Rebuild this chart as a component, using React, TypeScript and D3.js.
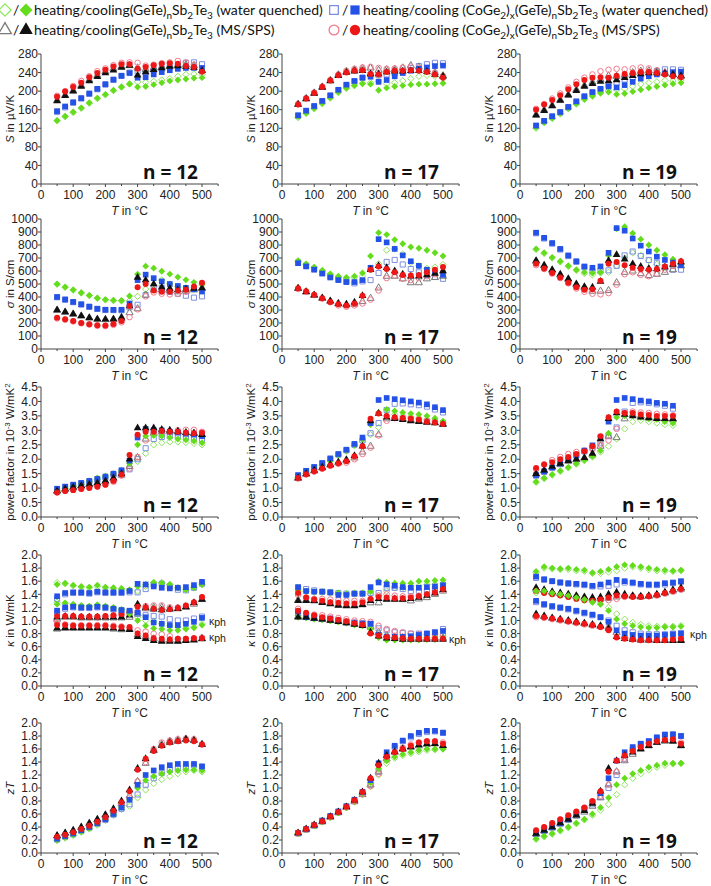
import React from 'react';
import * as d3 from 'd3';

// ---------- data ----------
const T_C = [50, 75, 100, 125, 150, 175, 200, 225, 250, 275, 300, 325, 350, 375, 400, 425, 450, 475, 500];
const X_TICKS = [0, 100, 200, 300, 400, 500];
const N_LABELS = ['12', '17', '19'];
// series order in every block: (GeTe)nSb2Te3 WQ, (CoGe2)x(GeTe)nSb2Te3 WQ, (GeTe)nSb2Te3 MS/SPS, (CoGe2)x(GeTe)nSb2Te3 MS/SPS

// Seebeck coefficient, µV/K
const S12_heat = [
  [136,145,154,163,174,184,192,201,209,216,220,219,221,224,227,232,236,237,236],
  [155,165,175,184,194,204,214,224,233,240,243,240,245,248,251,255,261,262,258],
  [180,191,201,212,224,234,242,248,253,255,250,247,250,252,255,256,257,255,245],
  [190,200,211,222,232,243,249,256,261,262,261,255,257,260,262,265,262,257,243],
];
const S12_cool = [
  [137,146,155,164,175,185,193,202,209,215,209,210,214,218,222,224,226,228,229],
  [157,167,176,185,195,205,215,225,233,239,229,230,236,241,245,248,250,250,250],
  [179,190,200,210,222,231,239,245,251,255,234,241,246,250,253,254,253,251,244],
  [188,199,209,218,230,239,246,253,258,258,248,252,256,259,260,259,254,252,242],
];
const S17_heat = [
  [143,152,162,173,185,197,206,212,217,218,221,216,218,222,227,232,234,232,229],
  [147,157,167,178,190,202,213,221,229,236,234,236,238,244,250,254,258,261,260],
  [172,184,196,209,223,235,242,246,249,250,245,246,247,250,255,252,246,240,233],
  [172,185,197,210,224,236,244,248,251,252,250,248,249,251,253,250,245,240,233],
];
const S17_cool = [
  [145,153,163,174,186,198,207,212,216,215,202,207,210,212,214,215,215,216,217],
  [148,158,168,179,191,203,214,222,229,231,220,224,232,239,244,248,251,254,255],
  [171,183,195,208,222,233,240,243,244,237,237,241,243,243,244,244,242,236,232],
  [171,184,196,209,223,234,240,244,245,237,236,241,244,244,245,244,241,236,229],
];
const S19_heat = [
  [120,132,141,151,162,172,182,189,196,201,203,205,210,215,218,220,223,222,224],
  [125,135,145,154,165,177,188,197,204,212,218,225,230,235,240,243,247,247,246],
  [149,159,169,181,192,203,212,219,225,233,232,235,240,243,244,243,240,236,232],
  [162,172,184,195,208,220,229,236,243,246,248,247,249,251,249,245,240,235,232],
];
const S19_cool = [
  [122,133,142,152,163,173,183,190,196,198,193,195,199,203,207,210,213,216,218],
  [126,136,146,155,166,178,189,198,205,210,208,213,220,227,232,236,238,241,242],
  [148,158,168,180,191,201,210,216,221,222,224,229,233,237,239,239,238,236,233],
  [160,171,181,191,204,215,224,229,230,229,233,237,239,241,241,239,236,232,230],
];

// electrical conductivity, S/cm
const C12_heat = [
  [498,475,453,431,411,390,378,372,370,372,405,460,490,530,500,480,470,460,460],
  [398,379,360,342,324,308,300,299,298,320,340,415,470,470,440,425,410,395,405],
  [298,283,268,253,238,228,226,228,235,280,310,415,455,455,450,440,445,455,465],
  [235,225,212,198,188,178,176,185,205,245,305,405,435,425,420,425,440,470,505],
];
const C12_cool = [
  [500,477,455,433,413,392,380,375,373,408,575,637,622,598,576,553,532,513,495],
  [400,381,362,344,326,310,302,301,302,350,530,572,545,520,500,485,470,460,443],
  [300,285,270,255,240,230,228,230,245,330,550,530,500,475,465,455,460,465,470],
  [240,228,215,200,190,182,180,192,215,330,475,500,450,440,440,450,455,480,510],
];
const C17_heat = [
  [675,650,625,600,572,555,545,548,560,610,655,760,770,730,665,640,620,630,650],
  [665,640,615,585,555,535,518,505,520,530,585,670,685,650,615,590,570,555,540],
  [465,438,412,390,368,348,340,345,365,390,470,560,560,540,510,510,540,550,560],
  [462,440,415,388,360,335,325,335,350,380,450,545,565,540,530,545,560,575,590],
];
const C17_cool = [
  [680,655,630,605,578,560,550,560,585,715,895,880,840,810,785,775,760,740,715],
  [660,635,610,580,550,530,515,515,530,625,845,820,770,720,675,640,610,590,570],
  [468,440,415,392,370,350,345,360,410,610,640,625,600,575,560,560,570,580,600],
  [468,445,418,390,362,345,335,350,410,610,635,615,590,570,565,570,590,610,630],
];
const C19_heat = [
  [765,735,700,670,635,605,580,570,585,590,640,700,740,720,680,650,630,640,650],
  [890,850,810,765,715,670,630,600,605,605,640,720,750,715,685,660,630,610,610],
  [675,640,605,570,535,495,470,445,445,450,510,590,600,580,565,575,590,610,640],
  [645,615,580,545,505,465,440,425,420,430,495,575,590,570,560,580,610,640,660],
];
const C19_cool = [
  [770,740,705,675,640,610,590,585,590,720,925,940,890,845,800,760,725,690,660],
  [895,855,815,770,720,675,635,625,635,740,930,910,850,795,750,710,685,665,645],
  [680,645,610,575,540,500,480,475,520,680,725,690,655,635,620,615,630,650,670],
  [655,620,585,550,510,475,455,460,525,655,670,645,625,615,610,615,635,655,675],
];

// power factor, 10^-3 W/mK^2
const P12_heat = [
  [0.9,0.98,1.06,1.13,1.22,1.3,1.38,1.46,1.55,1.75,1.92,2.2,2.5,2.57,2.6,2.6,2.58,2.55,2.5],
  [0.96,1.04,1.1,1.16,1.22,1.28,1.36,1.46,1.58,1.65,2.0,2.38,2.7,2.77,2.8,2.8,2.75,2.72,2.7],
  [0.9,0.96,1.02,1.07,1.12,1.17,1.23,1.32,1.45,1.75,2.05,2.7,2.9,2.95,2.97,2.95,2.92,2.9,2.85],
  [0.85,0.9,0.94,0.98,1.02,1.06,1.12,1.22,1.43,1.68,2.08,2.65,2.9,2.93,2.97,3.0,3.02,3.02,2.95],
];
const P12_cool = [
  [0.92,1.0,1.08,1.15,1.25,1.35,1.42,1.5,1.6,1.85,2.5,2.8,2.82,2.8,2.75,2.7,2.67,2.63,2.57],
  [0.98,1.05,1.12,1.18,1.25,1.32,1.4,1.5,1.62,1.95,2.75,3.05,3.0,3.0,2.95,2.92,2.88,2.85,2.8],
  [0.9,0.97,1.03,1.08,1.13,1.18,1.25,1.35,1.5,2.0,3.08,3.08,3.08,3.03,3.0,2.97,2.92,2.9,2.85],
  [0.85,0.9,0.93,0.97,1.0,1.05,1.12,1.25,1.47,2.15,2.85,2.95,2.95,2.98,2.95,2.95,2.92,2.9,2.92],
];
const P17_heat = [
  [1.37,1.5,1.63,1.78,1.93,2.12,2.28,2.47,2.62,2.85,3.1,3.5,3.55,3.5,3.47,3.42,3.37,3.32,3.28],
  [1.43,1.58,1.72,1.85,2.0,2.16,2.31,2.5,2.65,2.9,3.25,3.7,3.92,3.93,3.9,3.87,3.82,3.72,3.62],
  [1.34,1.48,1.6,1.7,1.8,1.88,1.95,2.05,2.25,2.45,2.85,3.4,3.45,3.4,3.35,3.32,3.3,3.27,3.22],
  [1.33,1.47,1.57,1.67,1.77,1.84,1.88,2.0,2.18,2.4,2.82,3.33,3.42,3.42,3.42,3.4,3.35,3.32,3.25],
];
const P17_cool = [
  [1.38,1.52,1.65,1.8,1.95,2.15,2.3,2.5,2.68,3.2,3.62,3.72,3.67,3.62,3.58,3.55,3.5,3.42,3.32],
  [1.45,1.6,1.73,1.87,2.03,2.18,2.33,2.53,2.75,3.25,4.05,4.12,4.08,4.04,4.0,3.96,3.9,3.8,3.7],
  [1.35,1.5,1.62,1.72,1.82,1.9,1.98,2.12,2.45,3.32,3.58,3.45,3.4,3.37,3.32,3.3,3.27,3.25,3.2],
  [1.35,1.48,1.58,1.68,1.78,1.86,1.93,2.1,2.45,3.4,3.58,3.5,3.45,3.43,3.4,3.37,3.3,3.27,3.22],
];
const P19_heat = [
  [1.2,1.33,1.45,1.58,1.7,1.83,1.95,2.08,2.25,2.45,2.7,3.05,3.3,3.35,3.3,3.25,3.2,3.17,null],
  [1.43,1.56,1.7,1.83,1.97,2.12,2.27,2.4,2.55,2.8,3.1,3.65,3.95,3.97,3.95,3.9,3.85,3.75,null],
  [1.48,1.6,1.72,1.83,1.93,1.98,2.03,2.15,2.45,2.8,2.75,3.4,3.55,3.5,3.45,3.42,3.4,3.38,null],
  [1.65,1.82,1.97,2.08,2.18,2.25,2.3,2.35,2.5,2.65,3.05,3.6,3.65,3.62,3.6,3.57,3.55,3.52,null],
];
const P19_cool = [
  [1.22,1.35,1.47,1.6,1.72,1.85,1.97,2.1,2.3,2.9,3.45,3.5,3.5,3.45,3.4,3.38,3.3,3.25,null],
  [1.45,1.58,1.72,1.85,2.0,2.15,2.3,2.48,2.75,3.3,4.05,4.12,4.08,4.03,4.0,3.95,3.92,3.85,null],
  [1.5,1.62,1.75,1.85,1.95,2.0,2.05,2.2,2.7,3.4,3.6,3.55,3.5,3.45,3.43,3.4,3.4,3.4,null],
  [1.7,1.82,1.9,2.0,2.08,2.18,2.28,2.45,2.8,3.45,3.65,3.6,3.6,3.55,3.53,3.5,3.5,3.5,null],
];

// thermal conductivity (total), W/mK
const K12_heat = [
  [1.58,1.56,1.53,1.51,1.5,1.52,1.5,1.49,1.48,1.46,1.45,1.52,1.58,1.58,1.55,1.5,1.47,1.5,1.55],
  [1.33,1.4,1.42,1.42,1.41,1.43,1.42,1.42,1.42,1.43,1.43,1.48,1.55,1.56,1.52,1.47,1.46,1.5,1.56],
  [1.02,1.05,1.05,1.04,1.04,1.04,1.04,1.04,1.04,1.05,1.1,1.18,1.2,1.2,1.18,1.18,1.2,1.25,1.32],
  [1.0,1.06,1.06,1.05,1.05,1.05,1.06,1.07,1.08,1.1,1.13,1.22,1.23,1.23,1.2,1.2,1.22,1.27,1.35],
];
const K12_cool = [
  [1.55,1.57,1.54,1.52,1.51,1.54,1.51,1.5,1.49,1.47,1.52,1.55,1.58,1.57,1.55,1.5,1.47,1.5,1.55],
  [1.37,1.42,1.43,1.43,1.42,1.44,1.43,1.43,1.43,1.45,1.56,1.55,1.52,1.5,1.49,1.5,1.51,1.54,1.59],
  [1.05,1.06,1.06,1.05,1.05,1.05,1.05,1.05,1.05,1.08,1.25,1.2,1.17,1.16,1.17,1.18,1.21,1.27,1.32],
  [1.07,1.07,1.07,1.06,1.06,1.06,1.07,1.08,1.1,1.13,1.21,1.2,1.18,1.16,1.17,1.19,1.23,1.28,1.36],
];
const K17_heat = [
  [1.45,1.44,1.43,1.43,1.42,1.41,1.4,1.41,1.41,1.4,1.38,1.45,1.5,1.5,1.52,1.53,1.55,1.55,1.57],
  [1.5,1.48,1.46,1.44,1.43,1.42,1.41,1.41,1.41,1.42,1.42,1.5,1.5,1.48,1.45,1.45,1.45,1.48,1.52],
  [1.31,1.31,1.3,1.28,1.26,1.24,1.23,1.23,1.24,1.27,1.27,1.33,1.33,1.32,1.3,1.33,1.35,1.4,1.45],
  [1.39,1.35,1.33,1.33,1.32,1.31,1.3,1.3,1.3,1.32,1.38,1.4,1.38,1.37,1.37,1.38,1.4,1.42,1.47],
];
const K17_cool = [
  [1.47,1.45,1.44,1.44,1.43,1.42,1.41,1.42,1.42,1.44,1.6,1.58,1.57,1.57,1.57,1.6,1.6,1.61,1.62],
  [1.51,1.45,1.44,1.44,1.43,1.39,1.39,1.41,1.41,1.51,1.58,1.55,1.53,1.51,1.5,1.5,1.51,1.52,1.54],
  [1.3,1.3,1.3,1.27,1.25,1.23,1.22,1.22,1.24,1.3,1.33,1.32,1.32,1.32,1.33,1.35,1.38,1.42,1.47],
  [1.42,1.35,1.32,1.3,1.28,1.27,1.26,1.26,1.28,1.33,1.36,1.35,1.34,1.34,1.35,1.37,1.4,1.43,1.48],
];
const K19_heat = [
  [1.73,1.8,1.79,1.78,1.78,1.76,1.75,1.72,1.72,1.74,1.76,1.8,1.82,1.8,1.78,1.76,1.75,1.75,1.76],
  [1.65,1.62,1.6,1.58,1.56,1.55,1.54,1.52,1.52,1.53,1.55,1.58,1.57,1.55,1.54,1.54,1.55,1.57,1.59],
  [1.48,1.46,1.43,1.41,1.39,1.37,1.35,1.33,1.33,1.34,1.36,1.38,1.37,1.36,1.37,1.39,1.42,1.45,1.48],
  [1.47,1.43,1.41,1.39,1.37,1.35,1.33,1.31,1.3,1.31,1.33,1.36,1.37,1.37,1.37,1.38,1.41,1.44,1.47],
];
const K19_cool = [
  [1.75,1.82,1.8,1.79,1.8,1.78,1.77,1.73,1.75,1.78,1.82,1.85,1.84,1.82,1.8,1.78,1.77,1.76,1.77],
  [1.67,1.63,1.6,1.58,1.57,1.56,1.55,1.53,1.55,1.58,1.62,1.6,1.58,1.56,1.55,1.55,1.57,1.58,1.6],
  [1.5,1.47,1.44,1.42,1.4,1.38,1.36,1.35,1.36,1.4,1.43,1.4,1.38,1.37,1.38,1.4,1.43,1.47,1.5],
  [1.45,1.42,1.4,1.38,1.36,1.33,1.31,1.3,1.32,1.35,1.38,1.37,1.36,1.36,1.37,1.39,1.42,1.45,1.48],
];

// lattice (phonon) thermal conductivity, W/mK
const KP12_heat = [
  [1.28,1.26,1.24,1.22,1.21,1.23,1.21,1.19,1.16,1.12,1.05,1.0,0.98,0.95,0.92,0.9,0.88,0.9,0.95],
  [1.12,1.18,1.2,1.19,1.19,1.2,1.19,1.17,1.15,1.14,1.1,1.08,1.07,1.06,1.02,1.0,1.0,1.03,1.06],
  [0.87,0.88,0.88,0.88,0.88,0.88,0.88,0.87,0.86,0.87,0.78,0.75,0.72,0.7,0.7,0.69,0.7,0.71,0.72],
  [0.96,0.94,0.93,0.93,0.93,0.93,0.93,0.92,0.91,0.88,0.85,0.83,0.8,0.79,0.76,0.72,0.72,0.73,0.74],
];
const KP12_cool = [
  [1.25,1.27,1.25,1.23,1.22,1.24,1.22,1.2,1.17,1.1,1.0,0.92,0.88,0.87,0.85,0.85,0.87,0.89,0.93],
  [1.15,1.2,1.21,1.2,1.2,1.21,1.2,1.18,1.16,1.15,1.12,1.05,0.97,0.95,0.93,0.93,0.95,0.98,1.04],
  [0.88,0.89,0.89,0.89,0.89,0.89,0.89,0.88,0.87,0.86,0.75,0.72,0.69,0.68,0.68,0.68,0.69,0.7,0.72],
  [0.93,0.93,0.92,0.92,0.92,0.92,0.92,0.91,0.9,0.9,0.8,0.77,0.73,0.72,0.71,0.72,0.72,0.73,0.73],
];
const KP17_heat = [
  [1.07,1.05,1.03,1.02,1.0,0.98,0.97,0.95,0.93,0.9,0.8,0.76,0.74,0.74,0.74,0.74,0.74,0.74,0.75],
  [1.1,1.07,1.05,1.03,1.02,1.0,0.98,0.97,0.96,0.95,0.88,0.85,0.82,0.81,0.8,0.8,0.8,0.82,0.87],
  [1.06,1.05,1.03,1.02,1.0,0.99,0.97,0.95,0.93,0.9,0.82,0.77,0.75,0.74,0.73,0.73,0.73,0.73,0.73],
  [1.18,1.1,1.09,1.08,1.06,1.04,1.02,1.0,0.99,0.98,0.92,0.87,0.84,0.82,0.8,0.79,0.78,0.78,0.78],
];
const KP17_cool = [
  [1.05,1.04,1.02,1.01,1.0,0.98,0.96,0.93,0.92,0.87,0.74,0.7,0.7,0.7,0.7,0.7,0.71,0.71,0.72],
  [1.14,1.05,1.04,1.03,1.03,0.99,0.97,0.96,0.95,0.95,0.78,0.75,0.75,0.75,0.76,0.78,0.8,0.82,0.84],
  [1.05,1.05,1.03,1.02,1.0,0.98,0.96,0.94,0.92,0.82,0.76,0.73,0.72,0.71,0.71,0.71,0.71,0.71,0.71],
  [1.15,1.12,1.08,1.05,1.03,1.01,0.99,0.96,0.94,0.8,0.77,0.75,0.74,0.73,0.72,0.72,0.72,0.72,0.72],
];
const KP19_heat = [
  [1.42,1.43,1.41,1.39,1.37,1.34,1.31,1.28,1.25,1.2,1.1,1.02,0.97,0.94,0.92,0.91,0.91,0.91,0.92],
  [1.28,1.24,1.21,1.19,1.17,1.14,1.11,1.08,1.05,1.0,0.92,0.85,0.82,0.8,0.79,0.79,0.79,0.8,0.81],
  [1.08,1.06,1.03,1.01,0.99,0.97,0.95,0.93,0.91,0.9,0.82,0.76,0.73,0.72,0.71,0.7,0.7,0.7,0.7],
  [1.05,1.04,1.02,1.0,0.98,0.96,0.94,0.92,0.9,0.88,0.8,0.75,0.73,0.72,0.71,0.71,0.71,0.72,0.73],
];
const KP19_cool = [
  [1.45,1.45,1.42,1.4,1.38,1.35,1.32,1.28,1.25,1.15,1.02,0.95,0.92,0.9,0.89,0.89,0.9,0.9,0.91],
  [1.3,1.25,1.22,1.2,1.18,1.15,1.12,1.09,1.05,0.98,0.85,0.8,0.78,0.77,0.77,0.77,0.78,0.79,0.8],
  [1.1,1.07,1.04,1.02,1.0,0.98,0.96,0.94,0.92,0.88,0.75,0.72,0.71,0.7,0.7,0.69,0.69,0.69,0.69],
  [1.07,1.05,1.03,1.01,0.99,0.97,0.95,0.93,0.9,0.85,0.74,0.72,0.71,0.7,0.7,0.7,0.7,0.71,0.72],
];

// figure of merit zT
const Z12_heat = [
  [0.19,0.23,0.27,0.32,0.37,0.43,0.5,0.58,0.67,0.72,0.85,0.97,1.07,1.13,1.18,1.22,1.25,1.27,1.25],
  [0.21,0.25,0.29,0.34,0.39,0.45,0.51,0.59,0.68,0.75,0.9,1.05,1.15,1.23,1.28,1.31,1.33,1.35,1.33],
  [0.26,0.3,0.34,0.39,0.45,0.51,0.58,0.66,0.76,0.88,1.1,1.38,1.58,1.67,1.72,1.74,1.75,1.74,1.67],
  [0.24,0.28,0.32,0.36,0.41,0.47,0.54,0.63,0.74,0.85,1.1,1.4,1.6,1.7,1.73,1.75,1.76,1.75,1.67],
];
const Z12_cool = [
  [0.2,0.24,0.28,0.33,0.38,0.45,0.52,0.6,0.7,0.82,1.0,1.12,1.18,1.22,1.25,1.27,1.28,1.28,1.27],
  [0.22,0.26,0.3,0.35,0.4,0.46,0.52,0.6,0.7,0.82,1.05,1.2,1.27,1.32,1.35,1.37,1.37,1.37,1.33],
  [0.27,0.31,0.35,0.4,0.46,0.52,0.59,0.68,0.8,0.97,1.3,1.45,1.58,1.65,1.7,1.72,1.75,1.73,1.67],
  [0.25,0.28,0.32,0.37,0.42,0.48,0.55,0.65,0.78,0.95,1.28,1.45,1.57,1.65,1.7,1.72,1.73,1.72,1.67],
];
const Z17_heat = [
  [0.3,0.36,0.42,0.48,0.55,0.62,0.7,0.79,0.9,1.02,1.2,1.38,1.46,1.5,1.53,1.56,1.58,1.59,1.6],
  [0.3,0.36,0.42,0.49,0.56,0.63,0.71,0.8,0.92,1.05,1.25,1.48,1.63,1.72,1.78,1.83,1.86,1.87,1.85],
  [0.3,0.36,0.42,0.48,0.55,0.62,0.7,0.79,0.9,1.05,1.25,1.45,1.55,1.6,1.63,1.65,1.67,1.68,1.65],
  [0.3,0.36,0.42,0.48,0.55,0.62,0.7,0.79,0.9,1.03,1.22,1.43,1.55,1.62,1.67,1.7,1.72,1.72,1.7],
];
const Z17_cool = [
  [0.3,0.36,0.42,0.48,0.55,0.62,0.7,0.8,0.92,1.08,1.3,1.42,1.48,1.52,1.55,1.58,1.6,1.6,1.6],
  [0.31,0.37,0.43,0.5,0.57,0.64,0.72,0.82,0.94,1.12,1.38,1.55,1.65,1.73,1.8,1.85,1.88,1.88,1.85],
  [0.31,0.37,0.43,0.49,0.56,0.63,0.71,0.81,0.94,1.15,1.38,1.5,1.56,1.6,1.63,1.66,1.68,1.68,1.65],
  [0.31,0.37,0.43,0.49,0.56,0.63,0.71,0.81,0.94,1.15,1.35,1.48,1.55,1.6,1.65,1.7,1.72,1.72,1.68],
];
const Z19_heat = [
  [0.21,0.25,0.29,0.34,0.39,0.45,0.51,0.58,0.66,0.75,0.9,1.05,1.15,1.22,1.28,1.32,1.35,1.37,1.38],
  [0.29,0.34,0.39,0.45,0.51,0.58,0.66,0.75,0.86,1.0,1.2,1.45,1.6,1.68,1.72,1.77,1.82,1.83,1.8],
  [0.29,0.34,0.39,0.45,0.51,0.57,0.63,0.72,0.85,1.05,1.25,1.42,1.52,1.6,1.65,1.7,1.72,1.72,1.65],
  [0.34,0.39,0.45,0.51,0.57,0.63,0.69,0.78,0.88,1.05,1.25,1.45,1.57,1.64,1.69,1.73,1.75,1.75,1.7],
];
const Z19_cool = [
  [0.22,0.26,0.3,0.35,0.4,0.46,0.52,0.6,0.7,0.85,1.05,1.15,1.22,1.27,1.32,1.35,1.38,1.38,1.38],
  [0.3,0.35,0.4,0.46,0.52,0.6,0.68,0.78,0.92,1.15,1.42,1.55,1.63,1.68,1.72,1.78,1.82,1.82,1.8],
  [0.3,0.35,0.4,0.46,0.52,0.58,0.65,0.76,0.95,1.3,1.42,1.5,1.55,1.6,1.65,1.7,1.73,1.72,1.65],
  [0.35,0.4,0.46,0.52,0.58,0.64,0.7,0.8,0.95,1.25,1.42,1.5,1.57,1.63,1.68,1.72,1.74,1.75,1.68],
];

// ---------- styling / layout ----------
const FILL = ['#63dc1c', '#2451e6', '#111111', '#ec1717'];
const OPEN = ['#8de65c', '#7d8fe2', '#7a7a7a', '#f27a8c'];
const diamond = (d3 as any).symbolDiamond2 ?? d3.symbolDiamond;
const SHAPES = [diamond, d3.symbolSquare, d3.symbolTriangle, d3.symbolCircle];
const SIZE_FILL = [30, 32, 26, 28];
const SIZE_OPEN = [26, 26, 22, 24];

const COL_X0 = [41, 282, 520];
const X_SPAN = 161; // px for 500 °C
const ROW_Y = [[54, 184], [219, 349], [387, 517], [555, 686], [723, 853]];
const ROWS = [
  { max: 280, step: 40, fmt: d3.format('d') },
  { max: 1000, step: 100, fmt: d3.format('d') },
  { max: 4.5, step: 0.5, fmt: d3.format('.1f') },
  { max: 2.0, step: 0.2, fmt: d3.format('.1f') },
  { max: 2.0, step: 0.2, fmt: d3.format('.1f') },
];
const DATA = [
  [[S12_heat, S12_cool], [S17_heat, S17_cool], [S19_heat, S19_cool]],
  [[C12_heat, C12_cool], [C17_heat, C17_cool], [C19_heat, C19_cool]],
  [[P12_heat, P12_cool], [P17_heat, P17_cool], [P19_heat, P19_cool]],
  [[K12_heat, K12_cool, KP12_heat, KP12_cool], [K17_heat, K17_cool, KP17_heat, KP17_cool], [K19_heat, K19_cool, KP19_heat, KP19_cool]],
  [[Z12_heat, Z12_cool], [Z17_heat, Z17_cool], [Z19_heat, Z19_cool]],
];
const KPH_LABELS = [[[209, 625], [209, 641]], [[449, 643]], [[690, 638]]];

const AX = '#444';
const TICK_FONT = 'Arial, "Liberation Sans", sans-serif';
const LEG_FONT = 'Lato, "Open Sans", sans-serif';

function yTitle(r: number) {
  const it = { fontStyle: 'italic' as const };
  if (r === 0) return [<tspan key="a" {...it}>S</tspan>, ' in µV/K'];
  if (r === 1) return [<tspan key="a" {...it}>σ</tspan>, ' in S/cm'];
  if (r === 2)
    return [
      <tspan key="z">power factor in 10</tspan>,
      <tspan key="a" dy={-4} fontSize={8}>-3</tspan>,
      <tspan key="b" dy={4}> W/mK</tspan>,
      <tspan key="c" dy={-4} fontSize={8}>2</tspan>,
    ];
  if (r === 3) return [<tspan key="a" {...it}>κ</tspan>, ' in W/mK'];
  return [<tspan key="a" {...it}>zT</tspan>];
}

function Markers({ sets, x, y }: any) {
  const out: any[] = [];
  sets.forEach(([heat]: any, si: number) => {
    heat.forEach((ser: (number | null)[], i: number) => {
      const p = d3.symbol(SHAPES[i], SIZE_OPEN[i])() as string;
      ser.forEach((v, k) => {
        if (v == null) return;
        out.push(
          <path key={`h${si}-${i}-${k}`} d={p} transform={`translate(${x(T_C[k])},${y(v)})`}
            fill="none" stroke={OPEN[i]} strokeWidth={1} />
        );
      });
    });
  });
  sets.forEach(([, cool]: any, si: number) => {
    cool.forEach((ser: (number | null)[], i: number) => {
      const p = d3.symbol(SHAPES[i], SIZE_FILL[i])() as string;
      ser.forEach((v, k) => {
        if (v == null) return;
        out.push(
          <path key={`c${si}-${i}-${k}`} d={p} transform={`translate(${x(T_C[k])},${y(v)})`} fill={FILL[i]} />
        );
      });
    });
  });
  return <g>{out}</g>;
}

function Panel({ r, c }: { r: number; c: number }) {
  const x0 = COL_X0[c];
  const [top, bottom] = ROW_Y[r];
  const cfg = ROWS[r];
  const x = d3.scaleLinear().domain([0, 500]).range([x0, x0 + X_SPAN]);
  const y = d3.scaleLinear().domain([0, cfg.max]).range([bottom, top]);
  const yTicks = d3.range(0, cfg.max + cfg.step / 2, cfg.step);
  const d = DATA[r][c];
  const sets = d.length === 4 ? [[d[0], d[1]], [d[2], d[3]]] : [[d[0], d[1]]];
  const xEnd = x(550);
  const minor = d3.range(50, 551, 100);
  return (
    <g>
      <Markers sets={sets} x={x} y={y} />
      <line x1={x0} x2={x0} y1={top} y2={bottom} stroke={AX} strokeWidth={1} />
      <line x1={x0} x2={xEnd} y1={bottom} y2={bottom} stroke={AX} strokeWidth={1} />
      {yTicks.map((t) => (
        <g key={`y${t}`}>
          <line x1={x0 - 3} x2={x0} y1={y(t)} y2={y(t)} stroke={AX} />
          <text x={x0 - 3} y={y(t)} dy="0.35em" textAnchor="end" fontSize={12} fontFamily={TICK_FONT} fill="#222">
            {cfg.fmt(t)}
          </text>
        </g>
      ))}
      {X_TICKS.map((t) => (
        <g key={`x${t}`}>
          <line x1={x(t)} x2={x(t)} y1={bottom} y2={bottom + 3} stroke={AX} />
          <text x={x(t)} y={bottom + 15} textAnchor="middle" fontSize={12} fontFamily={TICK_FONT} fill="#222">
            {t}
          </text>
        </g>
      ))}
      {minor.map((t) => (
        <line key={`m${t}`} x1={x(t)} x2={x(t)} y1={bottom} y2={bottom + 2} stroke={AX} />
      ))}
      <text x={x(275)} y={bottom + 31} textAnchor="middle" fontSize={12} fontFamily={TICK_FONT} fill="#222">
        <tspan fontStyle="italic">T</tspan> in °C
      </text>
      <text transform={`translate(${x0 - 31},${(top + bottom) / 2}) rotate(-90)`} textAnchor="middle"
        dy="0.35em" fontSize={11.5} fontFamily={TICK_FONT} fill="#222">
        {yTitle(r)}
      </text>
      <text x={x0 + 102} y={bottom - 5} fontSize={19} fontWeight="bold" fontFamily='"Open Sans", sans-serif' fill="#111">
        n = {N_LABELS[c]}
      </text>
      {r === 3 && KPH_LABELS[c].map(([lx, ly], i) => (
        <text key={`k${i}`} x={lx} y={ly} fontSize={10.5} fontFamily={TICK_FONT} fill="#222">
          κ<tspan dy={1}>ph</tspan>
        </text>
      ))}
    </g>
  );
}

type Seg = { t: string; sub?: boolean };
function legendSegs(co: boolean, tail: string): Seg[] {
  const s: Seg[] = [];
  if (co) {
    s.push({ t: 'heating/cooling (CoGe' }, { t: '2', sub: true }, { t: ')' }, { t: 'x', sub: true }, { t: '(GeTe)' });
  } else {
    s.push({ t: 'heating/cooling(GeTe)' });
  }
  s.push({ t: 'n', sub: true }, { t: 'Sb' }, { t: '2', sub: true }, { t: 'Te' }, { t: '3', sub: true }, { t: ' ' + tail });
  return s;
}

function LegendText({ x, y, co, tail }: { x: number; y: number; co: boolean; tail: string }) {
  const segs = legendSegs(co, tail);
  let state = 0; // current shift
  return (
    <text x={x} y={y} fontSize={14} fontFamily={LEG_FONT} fill="#111" style={{ whiteSpace: 'pre' }}>
      {segs.map((sg, i) => {
        const target = sg.sub ? 4 : 0;
        const dy = target - state;
        state = target;
        return (
          <tspan key={i} dy={dy} fontSize={sg.sub ? 10 : 14}>{sg.t}</tspan>
        );
      })}
    </text>
  );
}

function Legend() {
  const items = [
    { i: 0, x: 5, y: 10, co: false, tail: '(water quenched)' },
    { i: 1, x: 334, y: 10, co: true, tail: '(water quenched)' },
    { i: 2, x: 5, y: 30, co: false, tail: '(MS/SPS)' },
    { i: 3, x: 334, y: 30, co: true, tail: '(MS/SPS)' },
  ];
  return (
    <g>
      {items.map((it) => {
        const s = it.i === 0 ? 95 : it.i === 2 ? 70 : 75;
        const pOpen = d3.symbol(SHAPES[it.i], s)() as string;
        const pFill = d3.symbol(SHAPES[it.i], s + 10)() as string;
        return (
          <g key={it.i}>
            <path d={pOpen} transform={`translate(${it.x},${it.y})`} fill="none" stroke={OPEN[it.i]} strokeWidth={1.3} />
            <text x={it.x + 8} y={it.y + 5} fontSize={14} fontFamily={LEG_FONT} fill="#111">/</text>
            <path d={pFill} transform={`translate(${it.x + 21},${it.y})`} fill={FILL[it.i]} />
            <LegendText x={it.x + 29} y={it.y + 5} co={it.co} tail={it.tail} />
          </g>
        );
      })}
    </g>
  );
}

export default function App() {
  return (
    <svg width={711} height={886} style={{ position: 'absolute', left: 0, top: 0, background: '#fff' }}>
      <rect width={711} height={886} fill="#fff" />
      <Legend />
      {[0, 1, 2, 3, 4].map((r) => [0, 1, 2].map((c) => <Panel key={`${r}-${c}`} r={r} c={c} />))}
    </svg>
  );
}
